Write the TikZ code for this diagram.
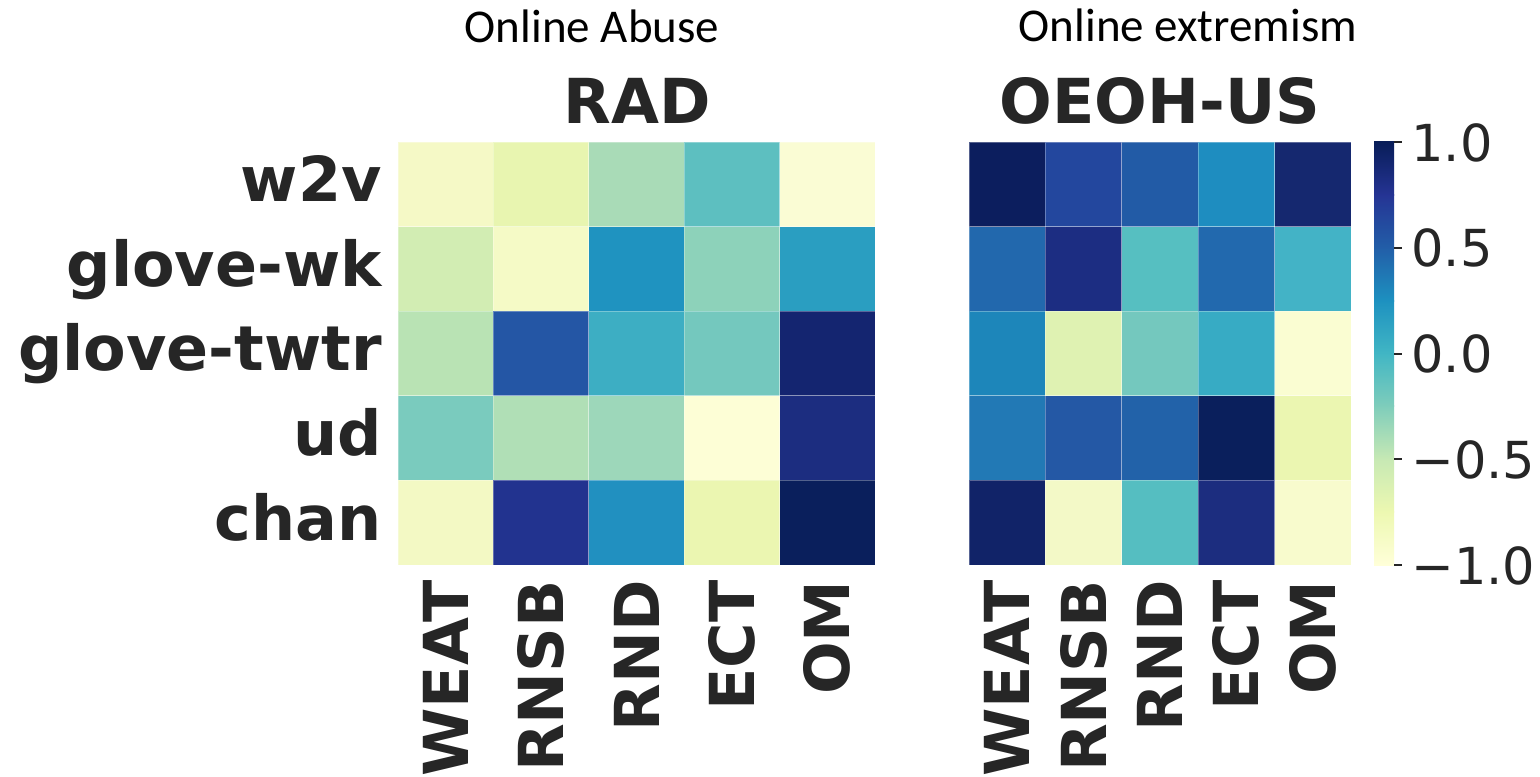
\documentclass[tikz,border=0pt]{standalone}
\usepackage{fontspec}
\newfontfamily\labfont{DejaVu Sans}
\newfontfamily\capfont{Carlito}
\definecolor{ink}{HTML}{262626}
\definecolor{yg1}{HTML}{FFFFD9}
\definecolor{yg2}{HTML}{EDF8B1}
\definecolor{yg3}{HTML}{C7E9B4}
\definecolor{yg4}{HTML}{7FCDBB}
\definecolor{yg5}{HTML}{41B6C4}
\definecolor{yg6}{HTML}{1D91C0}
\definecolor{yg7}{HTML}{225EA8}
\definecolor{yg8}{HTML}{253494}
\definecolor{yg9}{HTML}{081D58}
\tikzset{
  cellbox/.style={draw=white, draw opacity=0.3, line width=0.5pt},
  rowlab/.style={font=\labfont\bfseries\fontsize{31}{31}\selectfont, text=ink, inner sep=0pt, anchor=base east},
  collab/.style={font=\labfont\bfseries\fontsize{31}{31}\selectfont, text=ink, inner sep=0pt, anchor=east, rotate=90},
  paneltitle/.style={font=\labfont\bfseries\fontsize{31}{31}\selectfont, text=ink, inner sep=0pt, anchor=base},
  groupcap/.style={font=\capfont\fontsize{23.5}{23.5}\selectfont, text=black, inner sep=0pt, anchor=base},
  ticklab/.style={font=\labfont\fontsize{25.5}{25.5}\selectfont, text=ink, inner sep=0pt, anchor=base west},
  tickmark/.style={draw=ink, line width=1pt}
}
\begin{document}
\begin{tikzpicture}[x=0.5pt, y=-0.5pt]
\useasboundingbox (0,0) rectangle (1540,776);

% group captions
\node[groupcap] (capA) at (592,42) {Online Abuse};
\node[groupcap] (capB) at (1188,41) {Online extremism};

% panel titles
\node[paneltitle] (tRAD) at (637,123) {RAD};
\node[paneltitle] (tOEOH) at (1160,123) {OEOH-US};

% RAD heatmap cells (row/col/colour)
\foreach \r/\c/\h in {
  0/0/F5F9C6, 0/1/E8F5B0, 0/2/A9DBB7, 0/3/5DBFC0, 0/4/FAFCD4,
  1/0/D2EDB3, 1/1/F5FAC6, 1/2/1F93C0, 1/3/8DD2BA, 1/4/2A9EC1,
  2/0/B9E3B4, 2/1/2456A5, 2/2/3DAEC3, 2/3/74C8BE, 2/4/142570,
  3/0/7ACBBE, 3/1/B0DFB6, 3/2/9DD7BA, 3/3/FDFED6, 3/4/1C2D80,
  4/0/F3F9C4, 4/1/22338F, 4/2/2190C0, 4/3/EBF6B1, 4/4/0A1F5C}{
  \definecolor{cellc}{HTML}{\h}
  \fill[cellc, cellbox] ({398+\c*95.4},{142+\r*84.6}) rectangle ++(95.4,84.6);
}

% OEOH-US heatmap cells
\foreach \r/\c/\h in {
  0/0/0C1E5E, 0/1/23479E, 0/2/225BA6, 0/3/1E8DC0, 0/4/15286F,
  1/0/2268AD, 1/1/1C2D82, 1/2/56BFC1, 1/3/2269AE, 1/4/43B3C6,
  2/0/1D86BA, 2/1/DFF2B2, 2/2/74C8BE, 2/3/37ABC4, 2/4/FAFDD2,
  3/0/2279B5, 3/1/2458A5, 3/2/2262A9, 3/3/0A1F5C, 3/4/EBF6B1,
  4/0/112368, 4/1/F3F9C7, 4/2/55BEC1, 4/3/1C2D7F, 4/4/F8FBCD}{
  \definecolor{cellc}{HTML}{\h}
  \fill[cellc, cellbox] ({969+\c*76.4},{142+\r*84.6}) rectangle ++(76.4,84.6);
}

% row labels
\foreach \lab [count=\i from 0] in {w2v,glove-wk,glove-twtr,ud,chan}{
  \node[rowlab] (row\i) at (382,{184.3+\i*84.6+17.3}) {\lab};
}

% column labels
\foreach \lab [count=\i from 0] in {WEAT,RNSB,RND,ECT,OM}{
  \node[collab] (colA\i) at ({398+47.7+\i*95.4},580) {\lab};
  \node[collab] (colB\i) at ({969+38.2+\i*76.4},580) {\lab};
}

% colour bar (YlGnBu)
\foreach \a/\b [count=\k from 0] in {yg1/yg2,yg2/yg3,yg3/yg4,yg4/yg5,yg5/yg6,yg6/yg7,yg7/yg8,yg8/yg9}{
  \shade[bottom color=\a, top color=\b] (1374,{565-\k*52.875+0.4}) rectangle (1394,{565-(\k+1)*52.875-0.4});
}

% colour bar ticks and labels
\foreach \v/\t [count=\i from 0] in {1.0/1.0,0.5/0.5,0.0/0.0,-0.5/−0.5,-1.0/−1.0}{
  \coordinate (tk\i) at (1394,{142+\i*105.75});
  \draw[tickmark] (tk\i) -- ++(8,0);
  \node[ticklab] (tl\i) at ({1411},{142+\i*105.75+19}) {\t};
}
\end{tikzpicture}
\end{document}
